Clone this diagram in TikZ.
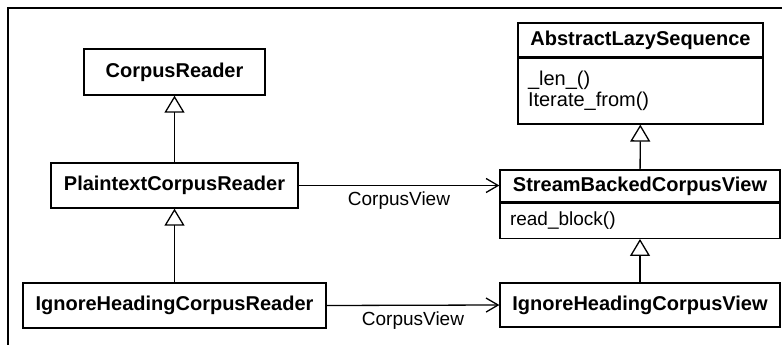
\documentclass[tikz,border=0pt]{standalone}
\usepackage{fontspec}
\setmainfont{Liberation Sans}
\usetikzlibrary{arrows.meta,positioning}
\tikzset{
  classbox/.style = {draw, rectangle, inner sep=0pt, text centered,
  font=\fontsize{20}{24}\selectfont\bfseries},
  classbody/.style = {draw, rectangle, inner xsep=10pt, inner ysep=0pt, align=left,
  font=\fontsize{19}{21}\selectfont},
  uses/.style = {-{Straight Barb[length=12pt,width=14pt]}},
  isa/.style = {-{Triangle[open,length=17pt,width=20pt]}}
}

\begin{document}
\begin{tikzpicture}[x=1pt,y=-1pt,line width=1.3pt,
        	label/.style={font=\fontsize{19}{20}\selectfont, inner sep=6pt}]
            \useasboundingbox (0,0) rectangle (782,345);
            \draw (8,345) -- (8,8) -- (782,8);

            % readers
            \node [classbox, minimum width=181pt, minimum height=46pt] (reader) at (174.5,72) {CorpusReader};
            \node [classbox, minimum width=247pt, minimum height=45pt] (plain) at (174.5,185.5) {PlaintextCorpusReader};
            \node [classbox, minimum width=303pt, minimum height=45pt] (ignreader) at (174.5,305.5) {IgnoreHeadingCorpusReader};

            % views
            \node [classbox, minimum width=245pt, minimum height=34pt] (lazy) at (640.5,40) {AbstractLazySequence};
            \node [classbody, font=\fontsize{20}{21}\selectfont, text width=225pt, inner ysep=13pt,
              below=0pt of lazy] (lazybody) {\_len\_()\\Iterate\_from()};
            \node [classbox, minimum width=280pt, minimum height=32pt] (stream) at (640,186) {StreamBackedCorpusView};
            \node [classbody, text width=260pt, minimum height=35pt, below=0pt of stream] (streambody) {read\_block()};
            \node [classbox, minimum width=280pt, minimum height=44pt] (ignview) at (640,305) {IgnoreHeadingCorpusView};

            \draw [isa] (plain) -- (reader);
            \draw [isa] (ignreader) -- (plain);
            \draw [isa] (stream) -- (lazybody);
            \draw [isa] (ignview) -- (streambody);

            \draw [uses] (plain.east) -- (plain.east -| stream.west)
              node [label, midway, below] {CorpusView};
            \draw [uses] (ignreader.east) -- (ignview.west)
              node [label, midway, below] {CorpusView};
        \end{tikzpicture}
\end{document}
